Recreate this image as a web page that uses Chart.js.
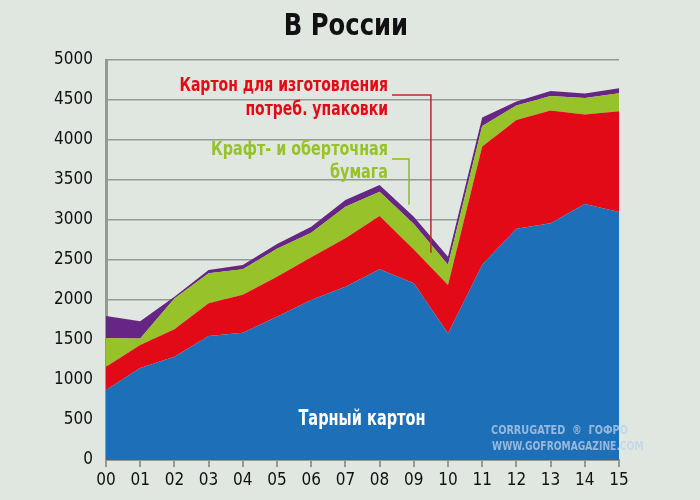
<!DOCTYPE html>
<html><head><meta charset="utf-8">
<style>html,body{margin:0;padding:0;background:#dfe7e0;}canvas{display:block;}</style>
<script src="https://cdn.jsdelivr.net/npm/chart.js@4.4.1/dist/chart.umd.min.js"></script>
</head><body>
<canvas id="c" width="700" height="500"></canvas>
<script>
const years = ['00','01','02','03','04','05','06','07','08','09','10','11','12','13','14','15'];
// Тарный картон
const containerboard = [875,1150,1290,1550,1590,1790,2000,2167,2385,2210,1580,2440,2890,2960,3200,3100];
// Картон для изготовления потреб. упаковки
const consumerBoard = [292,287,343,410,475,502,533,604,665,420,607,1480,1360,1410,1120,1260];
// Крафт- и оберточная бумага
const kraftPaper = [354,83,387,375,318,348,309,396,304,320,253,255,180,180,205,225];
// Прочее (фиолетовый слой)
const other = [279,215,20,40,54,60,75,83,83,90,100,105,50,62,57,61];
const yTicks = [0,500,1000,1500,2000,2500,3000,3500,4000,4500,5000];

const FONT = "'Liberation Sans Narrow', 'DejaVu Sans Condensed', 'Liberation Sans', sans-serif";
const GRID = '#929a94';

function condensed(ctx, text, x, y, sx, align) {
  ctx.save();
  ctx.translate(x, y);
  ctx.scale(sx, 1);
  ctx.textAlign = align;
  ctx.fillText(text, 0, 0);
  ctx.restore();
}

const overlay = {
  id: 'overlay',
  afterDraw(chart) {
    const ctx = chart.ctx, xs = chart.scales.x, ys = chart.scales.y;
    ctx.save();
    ctx.textBaseline = 'middle';
    // title
    ctx.fillStyle = '#111';
    ctx.font = "bold 30px " + FONT;
    condensed(ctx, 'В России', 346, 27, 0.9, 'center');
    // annotations
    ctx.font = "bold 19px " + FONT;
    ctx.fillStyle = '#e30a17';
    condensed(ctx, 'Картон для изготовления', 388, 86, 0.82, 'right');
    condensed(ctx, 'потреб. упаковки', 388, 110, 0.82, 'right');
    ctx.fillStyle = '#97c22a';
    condensed(ctx, 'Крафт- и оберточная', 388, 150, 0.84, 'right');
    condensed(ctx, 'бумага', 388, 173, 0.84, 'right');
    // leader lines
    ctx.lineWidth = 1.5;
    ctx.strokeStyle = '#c0272d';
    const rx = xs.getPixelForValue(9.5);
    ctx.beginPath(); ctx.moveTo(392, 95); ctx.lineTo(rx, 95); ctx.lineTo(rx, ys.getPixelForValue(2590)); ctx.stroke();
    ctx.strokeStyle = '#8fb82e';
    const gx = xs.getPixelForValue(8.86);
    ctx.beginPath(); ctx.moveTo(392, 159); ctx.lineTo(gx, 159); ctx.lineTo(gx, ys.getPixelForValue(3190)); ctx.stroke();
    // series label
    ctx.fillStyle = '#ffffff';
    ctx.font = "bold 21px " + FONT;
    condensed(ctx, 'Тарный картон', 362, 420, 0.77, 'center');
    // watermark
    ctx.fillStyle = 'rgba(190,210,235,0.75)';
    ctx.font = "bold 12px " + FONT;
    condensed(ctx, 'CORRUGATED  ®  ГОФРО', 491, 431, 0.9, 'left');
    condensed(ctx, 'WWW.GOFROMAGAZINE.COM', 492, 447, 0.85, 'left');
    ctx.restore();
  }
};

new Chart(document.getElementById('c'), {
  type: 'line',
  data: {
    labels: years,
    datasets: [
      { label: 'Тарный картон', data: containerboard, backgroundColor: '#1d6fb7', fill: 'origin' },
      { label: 'Картон для изготовления потреб. упаковки', data: consumerBoard, backgroundColor: '#e30a17', fill: '-1' },
      { label: 'Крафт- и оберточная бумага', data: kraftPaper, backgroundColor: '#97c22a', fill: '-1' },
      { label: 'Прочее', data: other, backgroundColor: '#672585', fill: '-1' }
    ].map(d => Object.assign(d, { borderWidth: 0, pointRadius: 0, tension: 0, borderColor: d.backgroundColor }))
  },
  options: {
    responsive: false,
    animation: false,
    layout: { padding: { left: 0, right: 81, top: 60, bottom: 0 } },
    plugins: { legend: { display: false }, tooltip: { enabled: false }, title: { display: false } },
    scales: {
      x: {
        offset: false,
        grid: { display: true, drawOnChartArea: false, drawTicks: true, tickLength: 7, color: GRID, lineWidth: 2 },
        border: { display: true, color: GRID, width: 2 },
        ticks: { color: '#111', font: { family: FONT, size: 17 }, padding: 3, maxRotation: 0, autoSkip: false },
        afterFit(s) { s.height = 40; }
      },
      y: {
        stacked: true,
        min: 0, max: 5000,
        afterBuildTicks(s) { s.ticks = yTicks.map(v => ({ value: v })); },
        grid: { color: GRID, lineWidth: 1.5, drawTicks: false },
        border: { display: true, color: GRID, width: 3 },
        ticks: { color: '#111', font: { family: FONT, size: 17 }, padding: 13, callback: v => String(v) },
        afterFit(s) { s.width = 106; }
      }
    }
  },
  plugins: [overlay]
});
</script>
</body></html>
